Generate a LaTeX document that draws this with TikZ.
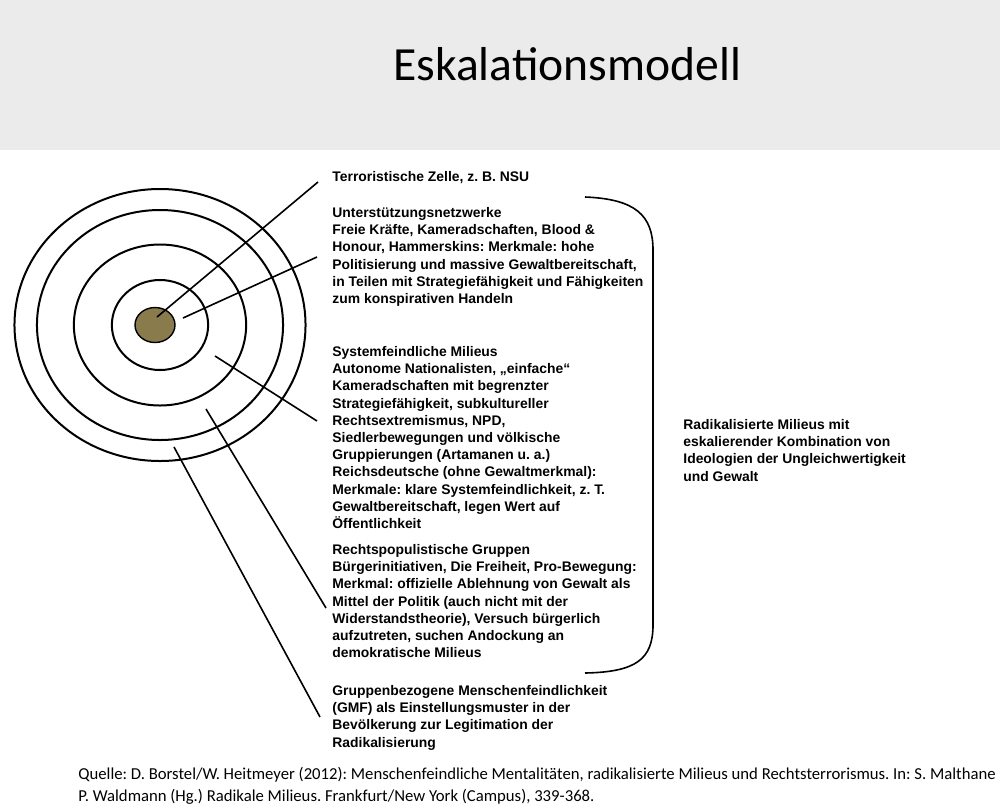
\documentclass[tikz,border=0pt]{standalone}
\usepackage{fontspec}
\setmainfont{Liberation Sans}
\newfontfamily\calibri{Carlito}
\usepackage{tikz}
\usepackage{xcolor}
\usetikzlibrary{calc}
\definecolor{Head}{HTML}{EBEBEB}
\definecolor{Core}{HTML}{8A7B4D}
\frenchspacing

\begin{document}
\begin{tikzpicture}[x=0.5pt,y=-0.5pt,
  ring/.style={line width=1pt},
  lead/.style={line width=0.8pt},
  blk/.style={anchor=north west,inner sep=0pt,align=left,font=\bfseries\fontsize{6.95}{8.6}\selectfont}]
  \useasboundingbox (0,0) rectangle (1000,810);
  \fill[Head] (0,0) rectangle (1000,150);
  \node[anchor=base west,inner sep=0pt,font=\calibri\fontsize{23.8}{28}\selectfont] (title) at (393,80) {Eskalationsmodell};

  % target rings
  \foreach \r in {45,80.5,115,136}
    \draw[ring] (160,325) ellipse ({1.07*\r} and \r);
  \draw[line width=0.7pt,fill=Core] (155,325) ellipse (20 and 17.5);

  \node[blk] (zelle) at (332,171) {Terroristische Zelle, z. B. NSU};
  \node[blk] (netz) at (332,207) {Unterstützungsnetzwerke\\
    Freie Kräfte, Kameradschaften, Blood \&\\
    Honour, Hammerskins: Merkmale: hohe\\
    Politisierung und massive Gewaltbereitschaft,\\
    in Teilen mit Strategiefähigkeit und Fähigkeiten\\
    zum konspirativen Handeln};
  \node[blk] (system) at (332,346) {Systemfeindliche Milieus\\
    Autonome Nationalisten, „einfache“\\
    Kameradschaften mit begrenzter\\
    Strategiefähigkeit, subkultureller\\
    Rechtsextremismus, NPD,\\
    Siedlerbewegungen und völkische\\
    Gruppierungen (Artamanen u. a.)\\
    Reichsdeutsche (ohne Gewaltmerkmal):\\
    Merkmale: klare Systemfeindlichkeit, z. T.\\
    Gewaltbereitschaft, legen Wert auf\\
    Öffentlichkeit};
  \node[blk] (populist) at (332,544) {Rechtspopulistische Gruppen\\
    Bürgerinitiativen, Die Freiheit, Pro-Bewegung:\\
    Merkmal: offizielle Ablehnung von Gewalt als\\
    Mittel der Politik (auch nicht mit der\\
    Widerstandstheorie), Versuch bürgerlich\\
    aufzutreten, suchen Andockung an\\
    demokratische Milieus};
  \node[blk] (gmf) at (332,685) {Gruppenbezogene Menschenfeindlichkeit\\
    (GMF) als Einstellungsmuster in der\\
    Bevölkerung zur Legitimation der\\
    Radikalisierung};
  \node[blk] (radikal) at (683,419) {Radikalisierte Milieus mit\\
    eskalierender Kombination von\\
    Ideologien der Ungleichwertigkeit\\
    und Gewalt};

  % leader lines
  \coordinate (s1) at (157,317); \coordinate (t1) at (318,182);
  \coordinate (s2) at (183,318); \coordinate (t2) at (317,257);
  \coordinate (s3) at (215,356); \coordinate (t3) at (317,421);
  \coordinate (s4) at (206,409); \coordinate (t4) at (326,608);
  \coordinate (s5) at (174,447); \coordinate (t5) at (320,717);
  \draw[lead] (s1) -- (t1);
  \draw[lead] (s2) -- (t2);
  \draw[lead] (s3) -- (t3);
  \draw[lead] (s4) -- (t4);
  \draw[lead] (s5) -- (t5);

  % bracket
  \draw[lead] (585,197) .. controls (635,199) and (653,215) .. (653,250) -- (653,625)
    .. controls (653,660) and (635,672) .. (585,673);

  \node[anchor=north west,inner sep=0pt,align=left,font=\calibri\fontsize{8.35}{11}\selectfont] (quelle) at (78,767)
    {Quelle: D. Borstel/W. Heitmeyer (2012): Menschenfeindliche Mentalitäten, radikalisierte Milieus und Rechtsterrorismus. In: S. Malthane\\
     P. Waldmann (Hg.) Radikale Milieus. Frankfurt/New York (Campus), 339-368.};
\end{tikzpicture}
\end{document}
